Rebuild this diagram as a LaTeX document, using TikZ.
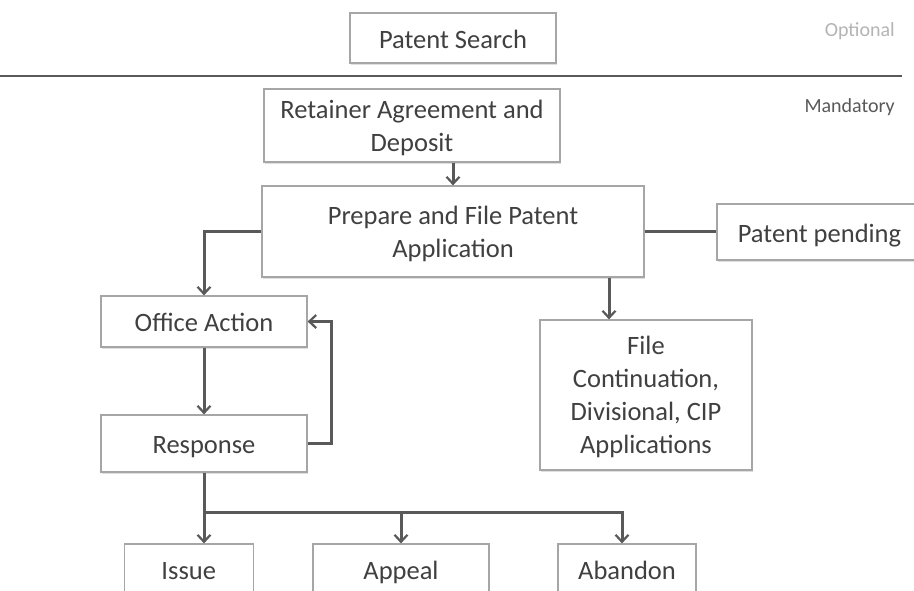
\documentclass[tikz,border=0pt]{standalone}
\usepackage{fontspec}
\setmainfont{Carlito}
\usepackage{tikz}
\usetikzlibrary{arrows.meta,positioning,shadows}
\definecolor{boxline}{HTML}{A6A6A6}
\definecolor{arrowgray}{HTML}{595959}
\definecolor{textgray}{HTML}{404040}
\definecolor{lightlabel}{HTML}{B4B4B4}
\tikzstyle{block} = [draw=boxline, line width=1.2pt, fill=white, rectangle, align=center, text=textgray,
  font=\fontsize{26.5}{33}\selectfont, text depth=0pt, drop shadow={shadow xshift=1pt, shadow yshift=-1.5pt, opacity=.25}]
\tikzstyle{oneline} = [text height=25pt, text depth=5pt]
\tikzstyle{arrow} = [draw=arrowgray, line width=3pt, -{Straight Barb[length=7pt,width=13pt,line width=2.2pt]}]
\tikzstyle{line} = [draw=arrowgray, line width=3pt]
\tikzstyle{tag} = [anchor=east, font=\fontsize{20}{24}\selectfont, inner sep=0]

\begin{document}
\begin{tikzpicture}[x=1pt, y=-1pt]
	  \useasboundingbox (0,0) rectangle (914,590);
	  \clip (0,0) rectangle (914,590);
	  \fill[white] (0,0) rectangle (914,590);

	  % optional part
	  \node [block, oneline, minimum width=206pt, minimum height=50pt] (search) at (453,38) {Patent Search};
	  \node [tag, text=lightlabel] (optional) at (895,31) {Optional};
	  \draw [draw=arrowgray, line width=2.7pt] (0,76) -- (902,76);
	  \node [tag, text=arrowgray] (mandatory) at (895,107) {Mandatory};

	  % mandatory part
	  \node [block, minimum width=296pt, minimum height=73pt] (retainer) at (412,125.5) {Retainer Agreement and\\Deposit};
	  \node [block, minimum width=382pt, minimum height=91pt] (prepare) at (453,231.5) {Prepare and File Patent\\Application};
	  \node [block, oneline, minimum width=205pt, minimum height=56pt] (pending) at (819.5,232) {Patent pending};
	  \node [block, oneline, minimum width=206pt, minimum height=51pt] (office) at (204,321.5) {Office Action};
	  \node [block, oneline, minimum width=206pt, minimum height=57pt] (response) at (204,443.5) {Response};
	  \node [block, minimum width=212pt, minimum height=150pt] (fileapp) at (646,395) {File\\Continuation,\\Divisional, CIP\\Applications};
	  \node [block, oneline, minimum width=129pt, minimum height=51pt] (issue) at (188.75,569.5) {Issue};
	  \node [block, oneline, minimum width=176pt, minimum height=51pt] (appeal) at (401,569.5) {Appeal};
	  \node [block, oneline, minimum width=138pt, minimum height=51pt] (abandon) at (627,569.5) {Abandon};

	  \coordinate (fanfile) at ([xshift=-37pt]fileapp.north);
	  \coordinate (fanout) at (204,512);
	  \coordinate (fanab) at ([xshift=-5pt]abandon.north);

	  \draw [arrow] (prepare.north |- retainer.south) -- (prepare.north);
	  \draw [line] (prepare.east) -- (prepare.east -| pending.west);
	  \draw [arrow] (prepare.west) -| (office.north);
	  \draw [arrow] (fanfile |- prepare.south) -- (fanfile);
	  \draw [arrow] (office) -- (response);
	  \draw [arrow] (response.east) -- ++(24,0) |- (office.east);
	  \draw [arrow] (response.south) -- (response.south |- issue.north);
	  \draw [arrow] (fanout) -| (fanab);
	  \draw [arrow] (fanout -| appeal.north) -- (appeal.north);
	\end{tikzpicture}
\end{document}
